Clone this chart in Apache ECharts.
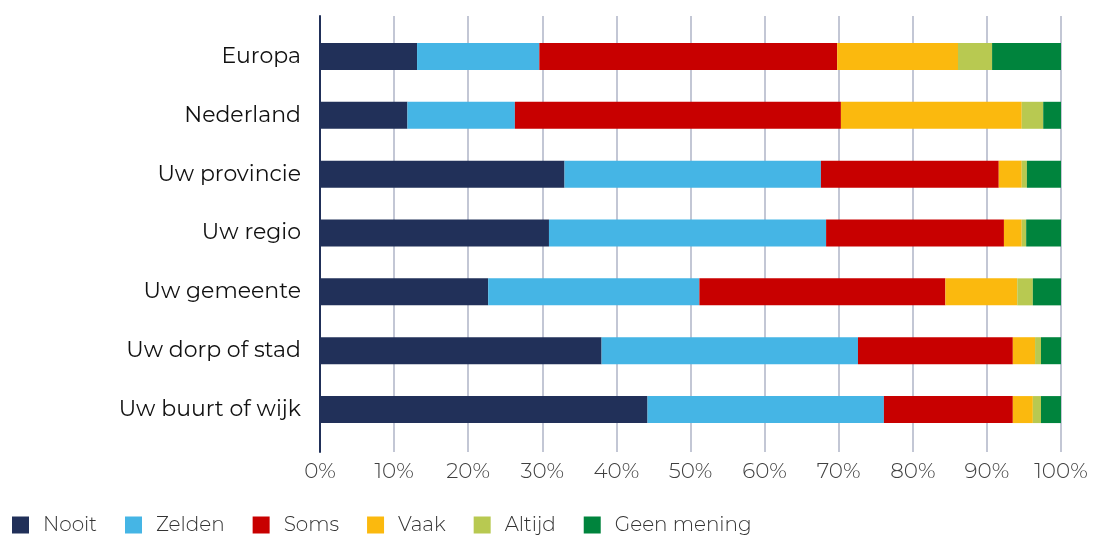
<!DOCTYPE html>
<html>
<head>
<meta charset="utf-8">
<script src="https://cdn.jsdelivr.net/npm/echarts@6/dist/echarts.min.js"></script>
<style>
html,body{margin:0;padding:0;background:#fff;}
#chart{width:1095px;height:536px;}
</style>
</head>
<body>
<div id="chart"></div>
<script>
const categories = ['Europa','Nederland','Uw provincie','Uw regio','Uw gemeente','Uw dorp of stad','Uw buurt of wijk'];
const seriesNames = ['Nooit','Zelden','Soms','Vaak','Altijd','Geen mening'];
const nooit      = [13.1, 11.8, 33.0, 30.9, 22.7, 38.0, 44.2];
const zelden     = [16.5, 14.5, 34.6, 37.4, 28.5, 34.6, 31.9];
const soms       = [40.2, 44.0, 24.0, 24.0, 33.2, 20.9, 17.4];
const vaak       = [16.3, 24.4, 3.1, 2.4, 9.7, 3.0, 2.7];
const altijd     = [4.6, 2.9, 0.7, 0.6, 2.1, 0.8, 1.1];
const geenMening = [9.3, 2.4, 4.6, 4.7, 3.8, 2.7, 2.7];
const colors = ['#213059','#45b5e5','#c80000','#fbb90e','#b8c951','#00843d'];
const values = [nooit, zelden, soms, vaak, altijd, geenMening];

const chart = echarts.init(document.getElementById('chart'));
const labelFont = '"Montserrat","Noto Sans","DejaVu Sans",sans-serif';
chart.setOption({
  animation: false,
  color: colors,
  legend: {
    left: 12, top: 515, padding: 0,
    itemWidth: 17, itemHeight: 17, itemGap: 28,
    icon: 'rect',
    textStyle: {fontSize: 20, color: '#333', fontFamily: labelFont, fontWeight: 300, padding: [0,0,0,9]},
    data: seriesNames
  },
  grid: [
    {left: 320, right: 34, top: 27, bottom: 97},
    {left: 320, right: 34, top: 16, bottom: 84}
  ],
  xAxis: [
    {gridIndex: 0, type: 'value', min: 0, max: 100, show: false},
    {gridIndex: 1, type: 'value', min: 0, max: 100, interval: 10,
     axisLine: {show: false}, axisTick: {show: false},
     splitLine: {show: true, lineStyle: {color: '#c3c7d5', width: 2}},
     axisLabel: {formatter: '{value}%', fontSize: 21.5, color: '#404040', fontWeight: 300, margin: 9, fontFamily: labelFont}}
  ],
  yAxis: [
    {gridIndex: 0, type: 'category', inverse: true, data: categories,
     axisLine: {show: false}, axisTick: {show: false},
     axisLabel: {fontSize: 22, color: '#111', margin: 19, fontFamily: labelFont}},
    {gridIndex: 1, type: 'value', min: 0, max: 1,
     axisLine: {show: true, lineStyle: {color: '#213059', width: 2}},
     axisTick: {show: false}, axisLabel: {show: false}, splitLine: {show: false}}
  ],
  series: seriesNames.map((n, i) => ({
    name: n, type: 'bar', stack: 'total', barWidth: 27,
    xAxisIndex: 0, yAxisIndex: 0,
    itemStyle: {color: colors[i]},
    data: values[i]
  }))
});
</script>
</body>
</html>
